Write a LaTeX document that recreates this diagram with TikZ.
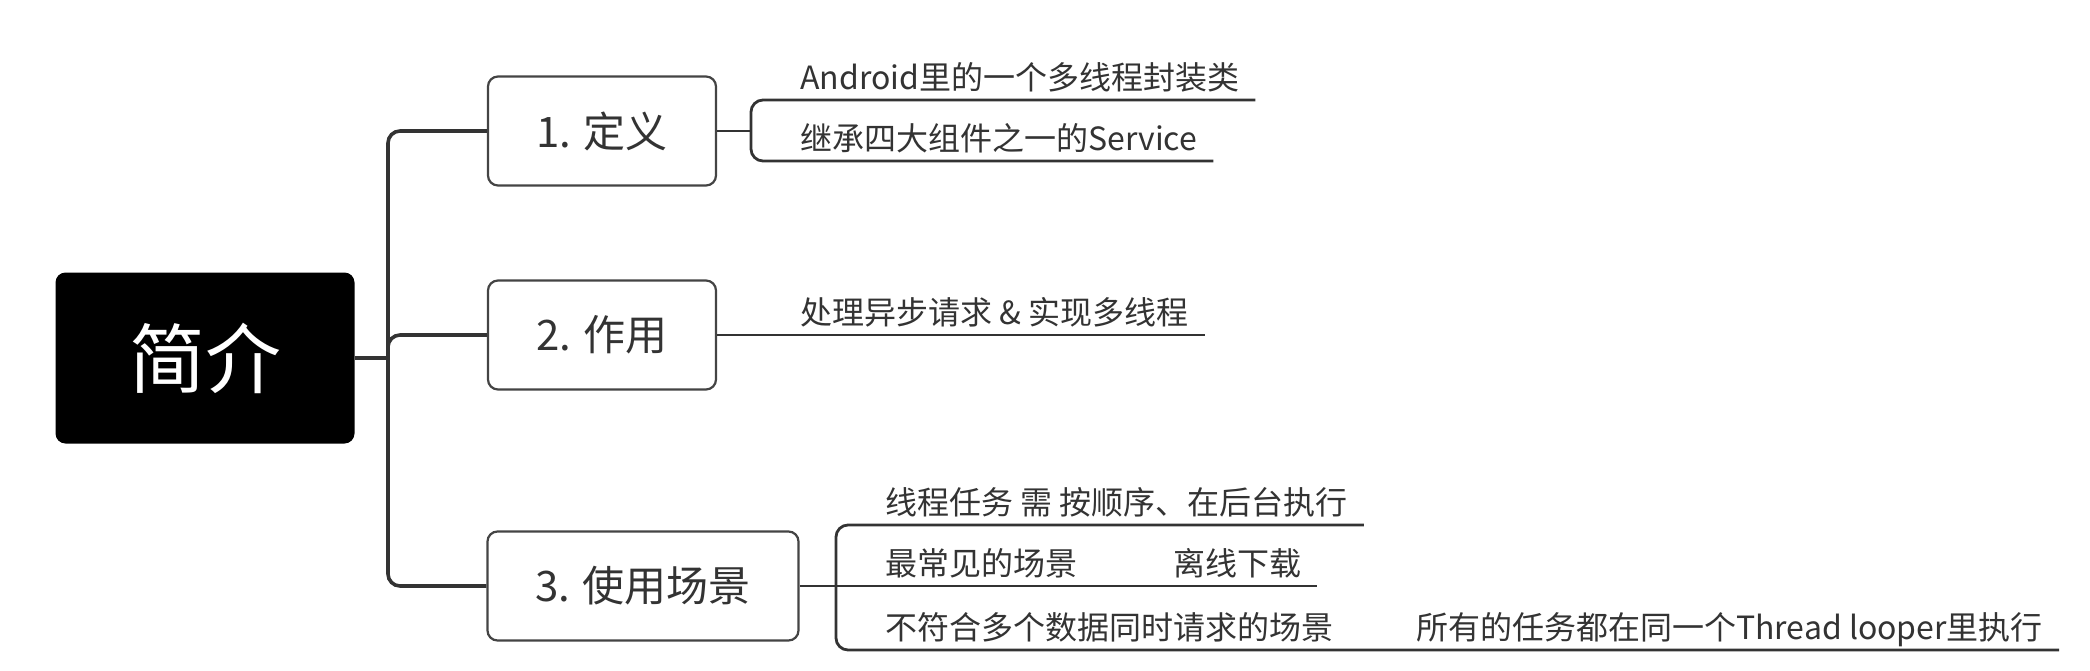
\documentclass[tikz,border=0pt]{standalone}
\usepackage{fontspec}
\setmainfont{Noto Sans CJK SC}
\definecolor{ink}{HTML}{333333}
\definecolor{rim}{HTML}{444444}
\tikzset{
  topic/.style = {draw = rim, line width = 2.2pt, rounded corners = 10pt, fill = white, text = ink,
                  minimum height = 109pt, font = \fontsize{42}{50}\selectfont},
  leaf/.style = {anchor = base west, inner xsep = 16pt, inner ysep = 0pt, text = ink,
                 font = \fontsize{32}{38}\selectfont},
  branch/.style = {draw = ink, line width = 2.8pt, rounded corners = 12pt},
  trunkline/.style = {branch, line width = 3.6pt}
}
\begin{document}
\begin{tikzpicture}[x = 1pt, y = -1pt]
\useasboundingbox (0, 0) rectangle (2090, 670);
\node[fill = black, rounded corners = 10pt, minimum width = 299pt, minimum height = 171pt, text = white,
      font = \fontsize{76}{90}\selectfont] (root) at (205, 358) {简介};
\node[topic, minimum width = 228pt] (def) at (602, 131) {1. 定义};
\node[topic, minimum width = 228pt] (use) at (602, 335) {2. 作用};
\node[topic, minimum width = 311pt] (scene) at (643, 586) {3. 使用场景};;
\coordinate (trunk) at (388, 358);
\draw[trunkline] (root.east) -- (trunk);
\draw[trunkline] (def.west) -| (trunk) |- (scene.west);
\draw[trunkline] (trunk) |- (use.west);
\node[leaf] (a1) at (784, 89) {Android里的一个多线程封装类};
\node[leaf] (a2) at (784, 150) {继承四大组件之一的Service};
\coordinate (k1t) at (751, 100);
\coordinate (k1b) at (751, 161);
\draw[branch] (def.east) -- (def.east -| k1t);
\draw[branch] (k1t -| a1.east) -- (k1t) -- (k1b) -- (k1b -| a2.east);
\node[leaf] (b1) at (784, 324) {处理异步请求 \& 实现多线程};
\draw[branch] (use.east) -- (use.east -| b1.east);
\node[leaf] (c1) at (869, 514) {线程任务 需 按顺序、在后台执行};
\node[leaf] (c2) at (869, 575) {最常见的场景\hspace{96pt}离线下载};
\node[leaf] (c3) at (869, 639) {不符合多个数据同时请求的场景\hspace{83pt}所有的任务都在同一个Thread looper里执行};
\coordinate (k3t) at (836, 525);
\coordinate (k3b) at (836, 650);
\draw[branch] (scene.east) -- (scene.east -| c2.east);
\draw[branch] (k3t -| c1.east) -- (k3t) -- (k3b) -- (k3b -| c3.east);
\end{tikzpicture}
\end{document}
